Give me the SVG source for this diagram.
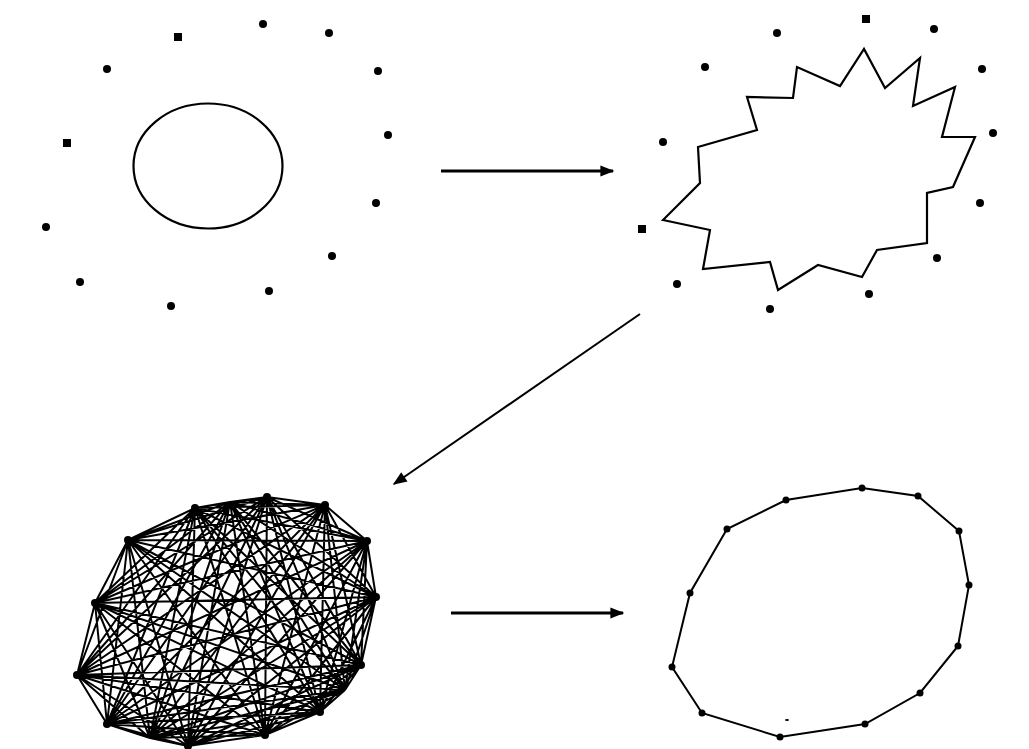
<svg xmlns="http://www.w3.org/2000/svg" width="1029" height="749" viewBox="0 0 1029 749">
<style>
.dot{fill:#000}
.ln{fill:none;stroke:#000;stroke-linejoin:miter}
.conn{stroke:#000;fill:none}
</style>
<defs>
<marker id="ah1" viewBox="0 0 10 10" refX="9" refY="5" markerWidth="22" markerHeight="14" markerUnits="userSpaceOnUse" orient="auto"><path d="M0,1 L10,5 L0,9 z" fill="#000"/></marker>
</defs>
<rect width="1029" height="749" fill="#fff"/>
<g id="panel1">
<ellipse class="ln" cx="208" cy="166" rx="74.5" ry="62.5" stroke-width="2.2"/>
<rect class="dot" x="174" y="33" width="8" height="8"/>
<rect class="dot" x="63" y="139" width="8" height="8"/>
<circle class="dot" cx="263" cy="24" r="4"/>
<circle class="dot" cx="329" cy="33" r="4"/>
<circle class="dot" cx="107" cy="69" r="4"/>
<circle class="dot" cx="378" cy="71" r="4"/>
<circle class="dot" cx="388" cy="135" r="4"/>
<circle class="dot" cx="46" cy="227" r="4"/>
<circle class="dot" cx="376" cy="203" r="4"/>
<circle class="dot" cx="332" cy="256" r="4"/>
<circle class="dot" cx="80" cy="282" r="4"/>
<circle class="dot" cx="269" cy="291" r="4"/>
<circle class="dot" cx="171" cy="306" r="4"/>
</g>
<g id="panel2">
<polygon class="ln" stroke-width="2.2" points="663,220 710,230 703,269 770,262 778,290 818,265 862,277 877,250 927,243 927,193 953,187 975,137 942,137 955,87 913,106 920,58 885,88 864,49 840,86 797,67 793,98 747,97 757,130 698,147 700,183"/>
<rect class="dot" x="862" y="15" width="8" height="8"/>
<rect class="dot" x="638" y="225" width="8" height="8"/>
<circle class="dot" cx="777" cy="33" r="4"/>
<circle class="dot" cx="934" cy="29" r="4"/>
<circle class="dot" cx="705" cy="67" r="4"/>
<circle class="dot" cx="982" cy="69" r="4"/>
<circle class="dot" cx="663" cy="142" r="4"/>
<circle class="dot" cx="993" cy="133" r="4"/>
<circle class="dot" cx="980" cy="203" r="4"/>
<circle class="dot" cx="937" cy="258" r="4"/>
<circle class="dot" cx="677" cy="284" r="4"/>
<circle class="dot" cx="869" cy="294" r="4"/>
<circle class="dot" cx="770" cy="309" r="4"/>
</g>
<g id="panel3">
<path class="ln" stroke-width="2" d="M267 497L325 505M267 497L367 541M267 497L376 597M267 497L361 665M267 497L320 712M267 497L265 735M267 497L188 746M267 497L107 724M267 497L77 675M267 497L95 603M267 497L128 540M267 497L195 508M325 505L367 541M325 505L376 597M325 505L361 665M325 505L320 712M325 505L265 735M325 505L188 746M325 505L107 724M325 505L77 675M325 505L95 603M325 505L128 540M325 505L195 508M367 541L376 597M367 541L361 665M367 541L320 712M367 541L265 735M367 541L188 746M367 541L107 724M367 541L77 675M367 541L95 603M367 541L128 540M367 541L195 508M376 597L361 665M376 597L320 712M376 597L265 735M376 597L188 746M376 597L107 724M376 597L77 675M376 597L95 603M376 597L128 540M376 597L195 508M361 665L320 712M361 665L265 735M361 665L188 746M361 665L107 724M361 665L77 675M361 665L95 603M361 665L128 540M361 665L195 508M320 712L265 735M320 712L188 746M320 712L107 724M320 712L77 675M320 712L95 603M320 712L128 540M320 712L195 508M265 735L188 746M265 735L107 724M265 735L77 675M265 735L95 603M265 735L128 540M265 735L195 508M188 746L107 724M188 746L77 675M188 746L95 603M188 746L128 540M188 746L195 508M107 724L77 675M107 724L95 603M107 724L128 540M107 724L195 508M77 675L95 603M77 675L128 540M77 675L195 508M95 603L128 540M95 603L195 508M128 540L195 508M345 690L267 497M345 690L325 505M345 690L367 541M345 690L376 597M345 690L361 665M345 690L320 712M345 690L265 735M345 690L188 746M345 690L107 724M345 690L77 675M345 690L95 603M345 690L128 540M345 690L195 508M345 690L150 738M345 690L230 502M150 738L267 497M150 738L325 505M150 738L367 541M150 738L376 597M150 738L361 665M150 738L320 712M150 738L265 735M150 738L188 746M150 738L107 724M150 738L77 675M150 738L95 603M150 738L128 540M150 738L195 508M150 738L230 502M230 502L267 497M230 502L325 505M230 502L367 541M230 502L376 597M230 502L361 665M230 502L320 712M230 502L265 735M230 502L188 746M230 502L107 724M230 502L77 675M230 502L95 603M230 502L128 540M230 502L195 508"/>
<g class="dot">
<circle cx="267" cy="497" r="4"/><circle cx="325" cy="505" r="4"/><circle cx="367" cy="541" r="4"/><circle cx="376" cy="597" r="4"/><circle cx="361" cy="665" r="4"/><circle cx="320" cy="712" r="4"/><circle cx="265" cy="735" r="4"/><circle cx="188" cy="746" r="4"/><circle cx="107" cy="724" r="4"/><circle cx="77" cy="675" r="4"/><circle cx="95" cy="603" r="4"/><circle cx="128" cy="540" r="4"/><circle cx="195" cy="508" r="4"/>
</g>
</g>
<g id="panel4">
<polygon class="ln" stroke-width="2" points="862,488 918,496 959,531 969,585 958,646 920,693 865,724 780,737 702,713 672,667 690,593 727,529 786,500"/>
<g class="dot">
<circle cx="862" cy="488" r="3.5"/><circle cx="918" cy="496" r="3.5"/><circle cx="959" cy="531" r="3.5"/><circle cx="969" cy="585" r="3.5"/><circle cx="958" cy="646" r="3.5"/><circle cx="920" cy="693" r="3.5"/><circle cx="865" cy="724" r="3.5"/><circle cx="780" cy="737" r="3.5"/><circle cx="702" cy="713" r="3.5"/><circle cx="672" cy="667" r="3.5"/><circle cx="690" cy="593" r="3.5"/><circle cx="727" cy="529" r="3.5"/><circle cx="786" cy="500" r="3.5"/>
<ellipse cx="787" cy="720" rx="2" ry="1"/>
</g>
</g>
<g id="connectors">
<line class="conn" x1="441" y1="171" x2="613" y2="171" stroke-width="3" marker-end="url(#ah1)"/>
<line class="conn" x1="640" y1="314" x2="394" y2="484" stroke-width="2" marker-end="url(#ah1)"/>
<line class="conn" x1="451" y1="613" x2="623" y2="613" stroke-width="3" marker-end="url(#ah1)"/>
</g>
</svg>
